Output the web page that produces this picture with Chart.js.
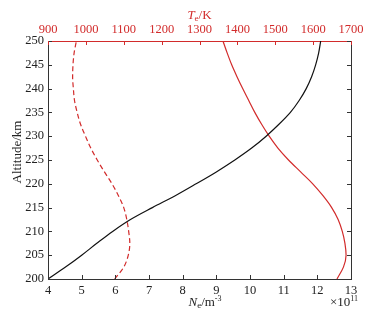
<!DOCTYPE html>
<html>
<head>
<meta charset="utf-8">
<script src="https://cdn.jsdelivr.net/npm/chart.js@4"></script>
<style>
  html, body { margin: 0; padding: 0; background: #fff; }
  #wrap { width: 375px; height: 314px; }
</style>
</head>
<body>
<div id="wrap"><canvas id="profileChart" width="375" height="314"></canvas></div>
<script>
// altitude grid (km) shared by all three profiles
const altitude = [200, 202.5, 205, 207.5, 210, 212.5, 215, 217.5, 220, 222.5, 225,
                  227.5, 230, 232.5, 235, 237.5, 240, 242.5, 245, 247.5, 250];

// electron density, units of 1e11 m^-3 (bottom axis)
const neValues = [4.00, 4.52, 5.00, 5.45, 5.92, 6.45, 7.10, 7.78, 8.40, 9.00, 9.55,
                  10.05, 10.48, 10.86, 11.20, 11.46, 11.67, 11.83, 11.95, 12.04, 12.10];

// electron temperature, K (top axis, solid red)
const teValues = [1663, 1680, 1687, 1684, 1677, 1666, 1649, 1626, 1599, 1567, 1535,
                  1507, 1484, 1464, 1446, 1430, 1414, 1399, 1385, 1373, 1362];

// second temperature profile, K (top axis, dashed red)
const tiValues = [1076, 1100, 1112, 1116, 1113, 1108, 1100, 1086, 1069, 1049, 1030,
                  1013, 999, 986, 977, 970, 967, 965, 966, 969, 975];

const neTicks = [4, 5, 6, 7, 8, 9, 10, 11, 12, 13];
const tempTicks = [900, 1000, 1100, 1200, 1300, 1400, 1500, 1600, 1700];
const altTicks = [200, 205, 210, 215, 220, 225, 230, 235, 240, 245, 250];

const RED = '#d22b2b';
const AXIS = '#333333';
const SERIF = "'Liberation Serif', 'DejaVu Serif', serif";

function toPoints(xs) {
    return xs.map((v, i) => ({ x: v, y: altitude[i] }));
}

// inward ticks, right frame and axis titles, MATLAB style
const frameAndLabels = {
    id: 'frameAndLabels',
    afterDraw(chart) {
        const ctx = chart.ctx;
        const area = chart.chartArea;
        const sx = chart.scales.x, st = chart.scales.xT, sy = chart.scales.y;
        const len = 4;
        ctx.save();
        ctx.lineWidth = 1;

        // right frame line
        ctx.strokeStyle = AXIS;
        ctx.beginPath();
        ctx.moveTo(area.right + 0.5, area.top);
        ctx.lineTo(area.right + 0.5, area.bottom);
        ctx.stroke();

        ctx.beginPath();
        neTicks.forEach(v => {
            const px = Math.round(sx.getPixelForValue(v)) + 0.5;
            ctx.moveTo(px, area.bottom);
            ctx.lineTo(px, area.bottom - len);
        });
        altTicks.forEach(v => {
            const py = Math.round(sy.getPixelForValue(v)) + 0.5;
            ctx.moveTo(area.left, py);
            ctx.lineTo(area.left + len, py);
            ctx.moveTo(area.right, py);
            ctx.lineTo(area.right - len, py);
        });
        ctx.stroke();

        ctx.strokeStyle = RED;
        ctx.beginPath();
        tempTicks.forEach(v => {
            const px = Math.round(st.getPixelForValue(v)) + 0.5;
            ctx.moveTo(px, area.top);
            ctx.lineTo(px, area.top + len);
        });
        ctx.stroke();

        // Altitude/km
        ctx.fillStyle = '#222';
        ctx.font = '13px ' + SERIF;
        ctx.textAlign = 'center';
        ctx.textBaseline = 'middle';
        ctx.save();
        ctx.translate(18, (area.top + area.bottom) / 2 - 8);
        ctx.rotate(-Math.PI / 2);
        ctx.fillText('Altitude/km', 0, 0);
        ctx.restore();

        // N_e/m^-3
        ctx.textAlign = 'left';
        ctx.textBaseline = 'alphabetic';
        const base = 306;
        const parts = [
            { t: 'N', f: 'italic 13px ' + SERIF, dy: 0 },
            { t: 'e', f: '9px ' + SERIF, dy: 2 },
            { t: '/m', f: '13px ' + SERIF, dy: 0 },
            { t: '-3', f: '8px ' + SERIF, dy: -5 }
        ];
        let total = 0;
        parts.forEach(p => { ctx.font = p.f; p.w = ctx.measureText(p.t).width; total += p.w; });
        let cx = 205 - total / 2;
        parts.forEach(p => { ctx.font = p.f; ctx.fillText(p.t, cx, base + p.dy); cx += p.w; });

        // x10^11
        ctx.font = '13px ' + SERIF;
        const w1 = ctx.measureText('\u00d710').width;
        ctx.font = '8px ' + SERIF;
        const w2 = ctx.measureText('11').width;
        let ex = 358 - w1 - w2;
        ctx.font = '13px ' + SERIF;
        ctx.fillText('\u00d710', ex, base);
        ctx.font = '8px ' + SERIF;
        ctx.fillText('11', ex + w1, base - 5);

        // T_e/K
        ctx.fillStyle = RED;
        const tparts = [
            { t: 'T', f: 'italic 13px ' + SERIF, dy: 0 },
            { t: 'e', f: '9px ' + SERIF, dy: 2 },
            { t: '/K', f: '13px ' + SERIF, dy: 0 }
        ];
        total = 0;
        tparts.forEach(p => { ctx.font = p.f; p.w = ctx.measureText(p.t).width; total += p.w; });
        cx = (area.left + area.right) / 2 - total / 2;
        tparts.forEach(p => { ctx.font = p.f; ctx.fillText(p.t, cx, 19 + p.dy); cx += p.w; });

        ctx.restore();
    }
};

const plainLabel = v => String(v);

const ctx = document.getElementById('profileChart').getContext('2d');
new Chart(ctx, {
    type: 'line',
    data: {
        datasets: [
            {
                label: 'Ne',
                data: toPoints(neValues),
                xAxisID: 'x',
                yAxisID: 'y',
                borderColor: '#111',
                borderWidth: 1.2,
                pointRadius: 0,
                cubicInterpolationMode: 'monotone',
                fill: false
            },
            {
                label: 'Te',
                data: toPoints(teValues),
                xAxisID: 'xT',
                yAxisID: 'y',
                borderColor: RED,
                borderWidth: 1.2,
                pointRadius: 0,
                cubicInterpolationMode: 'monotone',
                fill: false
            },
            {
                label: 'Ti',
                data: toPoints(tiValues),
                xAxisID: 'xT',
                yAxisID: 'y',
                borderColor: RED,
                borderWidth: 1.2,
                borderDash: [5, 3],
                pointRadius: 0,
                cubicInterpolationMode: 'monotone',
                fill: false
            }
        ]
    },
    options: {
        indexAxis: 'y',
        responsive: false,
        animation: false,
        events: [],
        layout: { padding: { left: 0, right: 24, top: 0, bottom: 0 } },
        plugins: {
            legend: { display: false },
            tooltip: { enabled: false }
        },
        scales: {
            x: {
                type: 'linear',
                position: 'bottom',
                min: 4,
                max: 13,
                afterBuildTicks: s => { s.ticks = neTicks.map(v => ({ value: v })); },
                afterFit: s => { s.height = 35; },
                grid: { display: false, drawTicks: false },
                border: { display: true, color: AXIS, width: 1 },
                ticks: { color: '#222', padding: 4, callback: plainLabel, font: { family: SERIF, size: 12.5 } }
            },
            xT: {
                type: 'linear',
                position: 'top',
                min: 900,
                max: 1700,
                afterBuildTicks: s => { s.ticks = tempTicks.map(v => ({ value: v })); },
                afterFit: s => { s.height = 41; },
                grid: { display: false, drawTicks: false },
                border: { display: true, color: RED, width: 1 },
                ticks: { color: RED, padding: 4, callback: plainLabel, font: { family: SERIF, size: 12.5 } }
            },
            y: {
                type: 'linear',
                position: 'left',
                min: 200,
                max: 250,
                afterBuildTicks: s => { s.ticks = altTicks.map(v => ({ value: v })); },
                afterFit: s => { s.width = 48; },
                grid: { display: false, drawTicks: false },
                border: { display: true, color: AXIS, width: 1 },
                ticks: { color: '#222', padding: 4, callback: plainLabel, font: { family: SERIF, size: 12.5 } }
            }
        }
    },
    plugins: [frameAndLabels]
});
</script>
</body>
</html>
